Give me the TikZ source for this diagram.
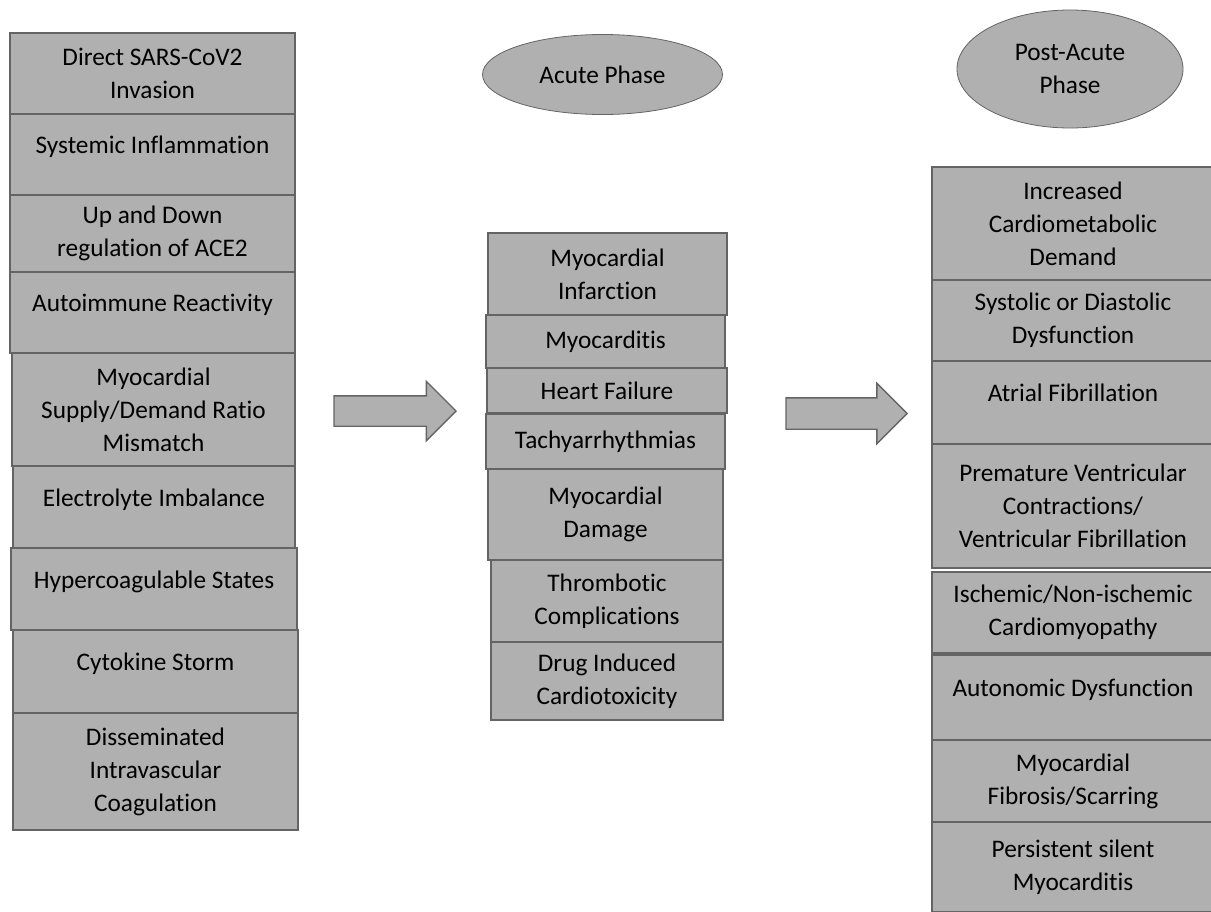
\documentclass[tikz,border=0pt]{standalone}
\usepackage{fontspec}
\setmainfont{Carlito}[Ligatures=NoCommon]
\usetikzlibrary{shapes.geometric, shapes.arrows}
\definecolor{boxfill}{RGB}{176,176,176}
\definecolor{boxline}{RGB}{100,100,100}

\begin{document}
\begin{tikzpicture}[x=1pt, y=-1pt]
\tikzstyle{box}=[draw=boxline, fill=boxfill, line width=1.4pt, rectangle, align=center, inner sep=0pt, font=\fontsize{25.3}{33}\selectfont]
\tikzstyle{oneline}=[text height=17pt, text depth=19pt]
\tikzstyle{phase}=[ellipse, draw=boxline, fill=boxfill, line width=0.8pt, inner sep=0pt, align=center, font=\fontsize{25.3}{33}\selectfont]
\tikzstyle{block}=[single arrow, draw=boxline, fill=boxfill, line width=1.4pt, inner xsep=0pt, single arrow head extend=14.5pt]
\useasboundingbox (0,0) rectangle (1211,911);
\clip (0,0) rectangle (1211,911);

\node[box, minimum width=285, minimum height=81] (l1) at (152.5,73.5) {Direct SARS-CoV2\\Invasion};
\node[box, oneline, minimum width=285, minimum height=81] (l2) at (152.5,154.5) {Systemic Inflammation};
\node[box, minimum width=285, minimum height=77] (l3) at (152.5,233.5) {Up and Down\\regulation of ACE2};
\node[box, oneline, minimum width=285, minimum height=81] (l4) at (152.5,312.5) {Autoimmune Reactivity};
\node[box, minimum width=283, minimum height=113] (l5) at (153.5,409.5) {Myocardial\\Supply/Demand Ratio\\Mismatch};
\node[box, oneline, minimum width=282, minimum height=82] (l6) at (154,507) {Electrolyte Imbalance};
\node[box, oneline, minimum width=286, minimum height=82] (l7) at (154,589) {Hypercoagulable States};
\node[box, oneline, minimum width=285, minimum height=83] (l8) at (155.5,671.5) {Cytokine Storm};
\node[box, minimum width=285, minimum height=117] (l9) at (155.5,771.5) {Disseminated\\Intravascular\\Coagulation};

\node[phase, minimum width=240, minimum height=80] (acute) at (602.5,74.5) {Acute Phase};
\node[box, minimum width=239, minimum height=82] (m1) at (607.5,274) {Myocardial\\Infarction};
\node[box, minimum width=239, minimum height=53] (m2) at (605.5,341.5) {Myocarditis};
\node[box, minimum width=240, minimum height=45] (m3) at (607,390.5) {Heart Failure};
\node[box, minimum width=239, minimum height=55] (m4) at (605.5,441.5) {Tachyarrhythmias};
\node[box, minimum width=235, minimum height=91] (m5) at (605.5,514.5) {Myocardial\\Damage};
\node[box, minimum width=232, minimum height=82] (m6) at (607,601) {Thrombotic\\Complications};
\node[box, minimum width=232, minimum height=78] (m7) at (607,681) {Drug Induced\\Cardiotoxicity};

\node[phase, minimum width=226, minimum height=118] (post) at (1070,69) {Post-Acute\\Phase};
\node[box, minimum width=282, minimum height=113] (r1) at (1073,223.5) {Increased\\Cardiometabolic\\Demand};
\node[box, minimum width=282, minimum height=81] (r2) at (1073,320.5) {Systolic or Diastolic\\Dysfunction};
\node[box, oneline, minimum width=282, minimum height=83] (r3) at (1073,402.5) {Atrial Fibrillation};
\node[box, minimum width=282, minimum height=124] (r4) at (1073,506) {Premature Ventricular\\Contractions/\\Ventricular Fibrillation};
\node[box, minimum width=282, minimum height=81] (r5) at (1073,612.5) {Ischemic/Non-ischemic\\Cardiomyopathy};
\node[box, oneline, minimum width=282, minimum height=85] (r6) at (1073,697.5) {Autonomic Dysfunction};
\node[box, minimum width=282, minimum height=82] (r7) at (1073,781) {Myocardial\\Fibrosis/Scarring};
\node[box, minimum width=282, minimum height=90] (r8) at (1073,867) {Persistent silent\\Myocarditis};

\node[block, anchor=tip, inner ysep=14.5pt, minimum height=122] (arr1) at (457,411) {};
\node[block, anchor=tip, inner ysep=15pt, minimum height=121] (arr2) at (908,413.5) {};

\end{tikzpicture}
\end{document}
